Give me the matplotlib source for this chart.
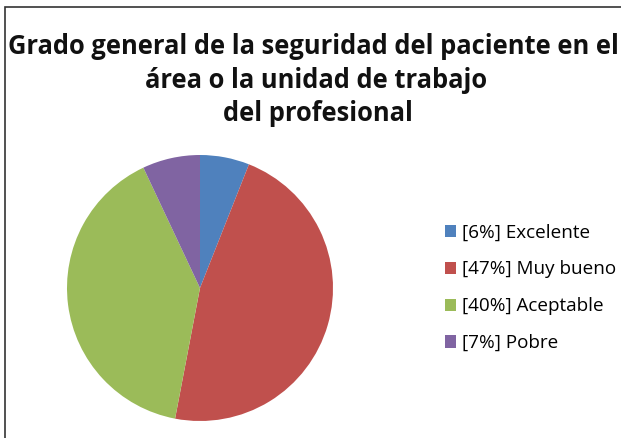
import matplotlib.pyplot as plt
from matplotlib.patches import Rectangle

# Datos
labels = ['Excelente', 'Muy bueno', 'Aceptable', 'Pobre']
values = [6, 47, 40, 7]
colors = ['#4F81BD', '#C0504D', '#9BBB59', '#8064A2']

W, H = 621, 438
fig = plt.figure(figsize=(W / 100, H / 100), dpi=100)
plt.rcParams['font.family'] = ['Open Sans', 'DejaVu Sans']

# marco
fig.patches.append(Rectangle((5 / W, -0.01), 1.1, (H - 7) / H + 0.01, transform=fig.transFigure,
                             fill=False, edgecolor='#333333', linewidth=1.2))

# titulo
fig.text(313 / W, 1 - 47 / H, 'Grado general de la seguridad del paciente en el',
         ha='center', va='center', fontsize=18.4, fontweight='bold', color='#111111')
fig.text(316 / W, 1 - 81 / H, 'área o la unidad de trabajo',
         ha='center', va='center', fontsize=18.4, fontweight='bold', color='#111111')
fig.text(318 / W, 1 - 114 / H, 'del profesional',
         ha='center', va='center', fontsize=18.4, fontweight='bold', color='#111111')

# pie
r = 133
cx, cy = 200, 288
ax = fig.add_axes([(cx - r) / W, (H - cy - r) / H, 2 * r / W, 2 * r / H])
wedges, _ = ax.pie(values, colors=colors, startangle=90, counterclock=False, radius=1)
ax.set_xlim(-1, 1)
ax.set_ylim(-1, 1)
ax.set_aspect('auto')
ax.axis('off')

leg_labels = ['[%d%%] %s' % (v, l) for v, l in zip(values, labels)]
fig.legend(wedges, leg_labels, loc='upper left', bbox_to_anchor=(437 / W, 1 - 216 / H),
           frameon=False, fontsize=13.6, handlelength=0.62, handleheight=0.62,
           handletextpad=0.3, labelspacing=1.0, borderaxespad=0)

plt.savefig('out.png', dpi=100)
